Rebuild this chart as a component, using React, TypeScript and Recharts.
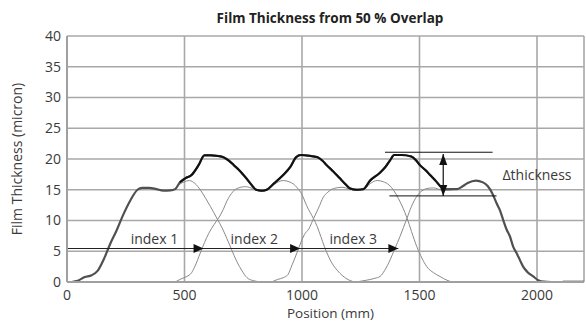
import React from 'react';
import { LineChart, Line, XAxis, YAxis, CartesianGrid, ReferenceLine, ReferenceDot } from 'recharts';

const xTicks = [0, 500, 1000, 1500, 2000];
const yTicks = [0, 5, 10, 15, 20, 25, 30, 35, 40];

const totalX = [20, 45, 75, 105, 130, 160, 185, 210, 240, 270, 300, 320, 350, 380, 410, 440, 460, 480, 505, 530, 560, 585, 610, 640, 665, 690, 710, 735, 760, 785, 805, 830, 850, 880, 920, 950, 975, 995, 1035, 1065, 1085, 1105, 1135, 1160, 1185, 1205, 1233, 1261, 1290, 1330, 1355, 1375, 1392, 1425, 1465, 1485, 1502, 1525, 1545, 1570, 1590, 1616, 1658, 1685, 1705, 1740, 1770, 1790, 1810, 1828, 1842, 1856, 1871, 1885, 1899, 1913, 1927, 1941, 1960, 1984, 2005, 2030, 2060];
const totalY = [0, 0.2, 0.8, 1.1, 1.8, 4.0, 6.3, 8.3, 11.0, 13.3, 15.0, 15.3, 15.3, 15.1, 14.85, 14.9, 15.1, 16.2, 16.9, 17.4, 19.0, 20.6, 20.6, 20.5, 20.3, 19.7, 19.0, 18.1, 17.0, 15.8, 15.0, 14.85, 15.0, 16.0, 17.4, 18.7, 20.3, 20.65, 20.5, 20.3, 19.8, 19.0, 17.9, 16.9, 15.9, 15.2, 15.0, 15.1, 16.5, 17.7, 18.7, 19.8, 20.65, 20.65, 20.4, 19.8, 19.0, 18.2, 17.4, 16.4, 15.5, 15.1, 15.1, 15.6, 16.1, 16.5, 16.2, 15.6, 14.4, 12.8, 11.7, 10.1, 8.5, 7.4, 5.7, 4.7, 3.6, 2.5, 1.6, 0.9, 0.3, 0.05, 0];

const pass1X = [460, 480, 500, 520, 545, 567, 590, 610, 640, 660, 680, 700, 723, 745, 766, 795, 830];
const pass1Y = [15.1, 15.9, 16.3, 16.5, 16.0, 15.0, 13.6, 12.3, 10.2, 8.8, 7.1, 5.3, 3.3, 1.8, 0.7, 0.2, 0];

const pass2X = [460, 485, 510, 530, 545, 567, 585, 603, 625, 645, 665, 681, 700, 723, 760, 790, 815, 835, 855, 880, 900, 920, 945, 965, 980, 1000, 1020, 1049, 1065, 1080, 1095, 1110, 1130, 1150, 1170, 1191, 1215, 1235];
const pass2Y = [0, 0.5, 0.9, 1.5, 2.6, 4.7, 6.4, 7.9, 9.3, 10.4, 11.8, 13.2, 14.4, 15.2, 15.5, 15.2, 14.9, 14.85, 15.1, 15.8, 16.3, 16.5, 16.3, 15.9, 15.3, 14.2, 12.4, 10.3, 9.0, 7.4, 5.8, 4.4, 2.9, 1.9, 1.1, 0.5, 0.1, 0];

const pass3X = [870, 895, 920, 940, 958, 978, 995, 1010, 1030, 1049, 1070, 1091, 1110, 1134, 1170, 1205, 1233, 1261, 1290, 1320, 1346, 1370, 1390, 1410, 1430, 1446, 1466, 1488, 1510, 1531, 1560, 1587, 1616, 1640];
const pass3Y = [0, 0.4, 0.7, 1.2, 2.8, 4.7, 6.4, 7.7, 8.7, 10.3, 12.0, 13.8, 14.6, 15.2, 15.4, 15.1, 15.0, 15.0, 16.0, 16.5, 16.3, 15.8, 14.9, 13.6, 12.0, 10.5, 8.2, 5.8, 3.9, 2.5, 1.5, 0.9, 0.3, 0];

const pass4X = [1230, 1276, 1310, 1332, 1352, 1375, 1396, 1417, 1446, 1466, 1488, 1510, 1531, 1560, 1590, 1616, 1640];
const pass4Y = [0, 0.3, 0.6, 0.9, 1.9, 3.6, 5.5, 7.4, 10.3, 12.3, 13.9, 14.8, 15.2, 15.3, 15.0, 14.9, 15.0];

const tailX = [2110, 2200];
const tailY = [0, 0];

const overlapRange = [470, 1610];

const indexLabels = ['index 1', 'index 2', 'index 3'];
const indexLabelX = [372, 797, 1218];
const indexLabelY = 7.0;
const arrowTipX = [581, 992, 1410];
const arrowY = 5.45;

const deltaTopX = [1353, 1811];
const deltaTopY = 21.1;
const deltaBotX = [1372, 1828];
const deltaBotY = 14.0;
const deltaArrowX = 1601;
const deltaArrowTop = 20.8;
const deltaLabel = '\u2206thickness';
const deltaLabelX = 2000;
const deltaLabelY = 17.4;

const toPts = (xs: number[], ys: number[]) => xs.map((x, i) => ({ x, y: ys[i] }));

const totalData = toPts(totalX, totalY);
const overlapData = totalData.filter((p) => p.x >= overlapRange[0] && p.x <= overlapRange[1]);
const pass1 = toPts(pass1X, pass1Y);
const pass2 = toPts(pass2X, pass2Y);
const pass3 = toPts(pass3X, pass3Y);
const pass4 = toPts(pass4X, pass4Y);
const tail = toPts(tailX, tailY);

const FONT = '"Open Sans", sans-serif';
const TXT = '#3a3a3a';

const RightArrow = (p: any) => (
  <polygon points={`${p.cx},${p.cy} ${p.cx - 10},${p.cy - 4.5} ${p.cx - 10},${p.cy + 4.5}`} fill="#111" />
);
const UpArrow = (p: any) => (
  <polygon points={`${p.cx},${p.cy} ${p.cx - 4},${p.cy + 11} ${p.cx + 4},${p.cy + 11}`} fill="#111" />
);
const DownArrow = (p: any) => (
  <polygon points={`${p.cx},${p.cy} ${p.cx - 4},${p.cy - 11} ${p.cx + 4},${p.cy - 11}`} fill="#111" />
);
const makeText = (label: string) => (p: any) => (
  <text x={p.cx} y={p.cy} dy="0.35em" textAnchor="middle" fontFamily={FONT} fontSize={14} fill={TXT}>
    {label}
  </text>
);

export default function App() {
  return (
    <div style={{ position: 'absolute', left: 0, top: 0, width: 586, height: 323, background: '#fff' }}>
      <div
        style={{
          position: 'absolute',
          left: 0,
          top: 8,
          width: 660,
          textAlign: 'center',
          fontFamily: FONT,
          fontWeight: 700,
          fontSize: 13.5,
          color: '#222',
          lineHeight: '20px',
        }}
      >
        Film Thickness from 50 % Overlap
      </div>
      <LineChart width={586} height={323} margin={{ top: 36, right: 2, bottom: 0, left: 0 }}>
        <CartesianGrid stroke="#a8a8a8" strokeWidth={1.6} />
        <XAxis
          dataKey="x"
          type="number"
          domain={[0, 2200]}
          ticks={xTicks}
          allowDataOverflow
          height={41}
          tickLine={false}
          tickSize={6}
          tickMargin={2}
          axisLine={{ stroke: '#a0a0a0', strokeWidth: 2 }}
          tick={{ fontFamily: FONT, fontSize: 14, fill: TXT }}
          label={{
            content: (props: any) => {
              const vb = props.viewBox;
              return (
                <text x={vb.x + vb.width / 2 + 5} y={vb.y + 31} dy="0.35em" textAnchor="middle" fontFamily={FONT} fontSize={13.5} fill={TXT}>
                  Position (mm)
                </text>
              );
            },
          }}
        />
        <YAxis
          type="number"
          domain={[0, 40]}
          ticks={yTicks}
          allowDataOverflow
          width={67}
          tickLine={false}
          tickSize={3}
          tickMargin={3}
          axisLine={{ stroke: '#a0a0a0', strokeWidth: 2 }}
          tick={{ fontFamily: FONT, fontSize: 14, fill: TXT }}
          label={{
            content: (props: any) => {
              const vb = props.viewBox;
              const cx = vb.x + 17;
              const cy = vb.y + vb.height / 2;
              return (
                <text x={cx} y={cy} dy="0.35em" transform={`rotate(-90 ${cx} ${cy})`} textAnchor="middle" fontFamily={FONT} fontSize={14} fill={TXT}>
                  Film Thickness (micron)
                </text>
              );
            },
          }}
        />
        <Line data={pass1} dataKey="y" stroke="#8a8a8a" strokeWidth={1} dot={false} isAnimationActive={false} type="monotone" />
        <Line data={pass2} dataKey="y" stroke="#8a8a8a" strokeWidth={1} dot={false} isAnimationActive={false} type="monotone" />
        <Line data={pass3} dataKey="y" stroke="#8a8a8a" strokeWidth={1} dot={false} isAnimationActive={false} type="monotone" />
        <Line data={pass4} dataKey="y" stroke="#8a8a8a" strokeWidth={1} dot={false} isAnimationActive={false} type="monotone" />
        <Line data={totalData} dataKey="y" stroke="#505050" strokeWidth={2.2} dot={false} isAnimationActive={false} type="monotone" />
        <Line data={overlapData} dataKey="y" stroke="#111" strokeWidth={2} dot={false} isAnimationActive={false} type="monotone" />
        <Line data={tail} dataKey="y" stroke="#111" strokeWidth={2.5} dot={false} isAnimationActive={false} />

        <ReferenceLine segment={[{ x: 0, y: arrowY }, { x: arrowTipX[2], y: arrowY }]} stroke="#222" strokeWidth={1.2} />
        {arrowTipX.map((x, i) => (
          <ReferenceDot key={'a' + i} x={x} y={arrowY} r={1} shape={RightArrow} />
        ))}
        {indexLabels.map((t, i) => (
          <ReferenceDot key={'t' + i} x={indexLabelX[i]} y={indexLabelY} r={1} shape={makeText(t)} />
        ))}

        <ReferenceLine segment={[{ x: deltaTopX[0], y: deltaTopY }, { x: deltaTopX[1], y: deltaTopY }]} stroke="#111" strokeWidth={1} />
        <ReferenceLine segment={[{ x: deltaBotX[0], y: deltaBotY }, { x: deltaBotX[1], y: deltaBotY }]} stroke="#111" strokeWidth={1} />
        <ReferenceLine segment={[{ x: deltaArrowX, y: deltaBotY }, { x: deltaArrowX, y: deltaArrowTop }]} stroke="#111" strokeWidth={1.2} />
        <ReferenceDot x={deltaArrowX} y={deltaArrowTop} r={1} shape={UpArrow} />
        <ReferenceDot x={deltaArrowX} y={deltaBotY} r={1} shape={DownArrow} />
        <ReferenceDot x={deltaLabelX} y={deltaLabelY} r={1} shape={makeText(deltaLabel)} />
      </LineChart>
    </div>
  );
}
